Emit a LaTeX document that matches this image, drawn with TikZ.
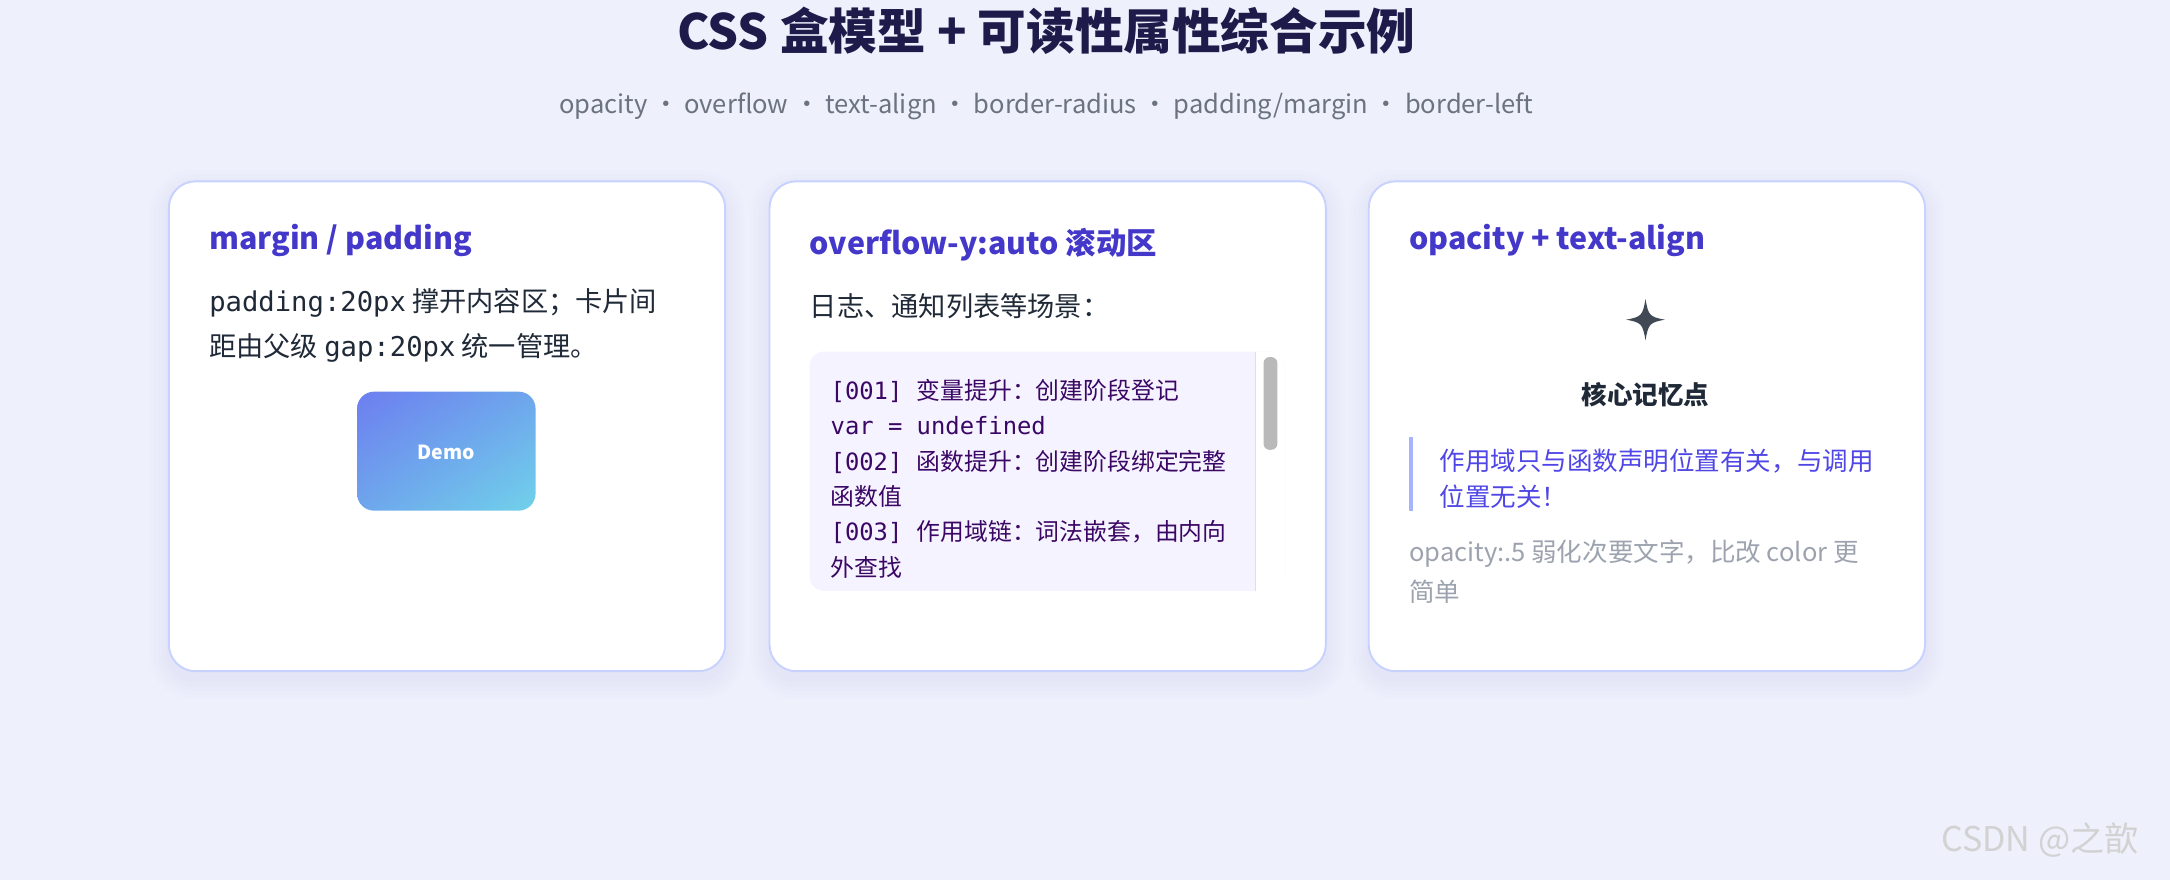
\documentclass[tikz,border=0pt]{standalone}
\usepackage{fontspec}
\setmainfont{Noto Sans CJK SC}
\newfontfamily\monof{DejaVu Sans Mono}
\newfontfamily\cjk{Noto Sans CJK SC}
\usetikzlibrary{positioning,shadings}
\definecolor{bgc}{HTML}{EEF0FC}
\definecolor{titlec}{HTML}{1E1B4B}
\definecolor{subc}{HTML}{6B7280}
\definecolor{edgec}{HTML}{C7D2FE}
\definecolor{headc}{HTML}{4338CA}
\definecolor{bodyc}{HTML}{1F2937}
\definecolor{codec}{HTML}{3B0764}
\definecolor{codebg}{HTML}{F5F3FF}
\definecolor{quotec}{HTML}{4F46E5}
\definecolor{barc}{HTML}{A5B4FC}
\definecolor{mutec}{HTML}{9CA3AF}
\definecolor{demoa}{HTML}{6D7EF0}
\definecolor{demob}{HTML}{6EA6EC}
\definecolor{democ}{HTML}{70D2EA}
\definecolor{shadc}{HTML}{6366F1}
\newcommand{\cmono}[1]{{\monof #1}}
\begin{document}
\begin{tikzpicture}[x=0.02cm,y=-0.02cm,
        card/.style={draw=edgec, line width=0.8pt, fill=white, rounded corners=11pt},
        head/.style={anchor=west, font=\bfseries\fontsize{12.5}{14}\selectfont, text=headc},
        body/.style={anchor=north west, align=left, font=\fontsize{11.2}{18.5}\selectfont, text=bodyc},
        code/.style={anchor=north west, align=left, font=\fontsize{9.8}{14.5}\selectfont, text=codec},
    ]
    \fill[bgc] (0,0) rectangle (1568,636);
    \useasboundingbox (0,0) rectangle (1568,636);

    % titles
    \node[font=\bfseries\fontsize{20}{22}\selectfont, text=titlec] (title) at (756,22) {CSS 盒模型 + 可读性属性综合示例};
    \node[font=\fontsize{10.5}{12}\selectfont, text=subc] (subtitle) at (756,77) {opacity · overflow · text-align · border-radius · padding/margin · border-left};

    % cards with soft shadow
    \foreach \xa in {122,556,989} {
        \foreach \s in {2,5,8,11,14}
            \fill[shadc, opacity=0.012, rounded corners=11pt+\s*0.5pt]
                (\xa-\s,131-\s+6) rectangle (\xa+402+\s,485+\s+6);
        \path[card] (\xa,131) rectangle (\xa+402,485);
    }

    % card 1
    \node[head] (headA) at (145,174) {margin / padding};
    \node[body] (textA) at (145,202) {\cmono{padding:20px} 撑开内容区；卡片间\\距由父级 \cmono{gap:20px} 统一管理。};
    \shade[rounded corners=7pt, upper left=demoa, lower right=democ, upper right=demob, lower left=demob]
        (258,283) rectangle (387,369);
    \node[font=\bfseries\fontsize{8}{9}\selectfont, text=white] (demo) at (322.5,327) {Demo};

    % card 2
    \node[head] (headB) at (579,177) {overflow-y:auto 滚动区};
    \node[body] (textB) at (579,206) {日志、通知列表等场景：};
    \fill[codebg, rounded corners=6pt] (585,254) rectangle (928,427);
    \fill[white] (907,254) rectangle (928,427);
    \draw[gray!25] (907,254) -- (907,427);
    \fill[gray!55, rounded corners=2.5pt] (913,258) rectangle (923,325);
    \node[code] (log) at (594,268) {\monof [001] {\cjk 变量提升：创建阶段登记}\\\monof var = undefined\\
        \monof [002] {\cjk 函数提升：创建阶段绑定完整}\\{\cjk 函数值}\\
        \monof [003] {\cjk 作用域链：词法嵌套，由内向}\\{\cjk 外查找}};

    % card 3
    \node[head] (headC) at (1012,174) {opacity + text-align};
    \fill[bodyc!85] (1189,216) .. controls (1191,228) and (1192,229) .. (1203,231)
        .. controls (1192,233) and (1191,234) .. (1189,246)
        .. controls (1187,234) and (1186,233) .. (1175,231)
        .. controls (1186,229) and (1187,228) .. (1189,216) -- cycle;
    \node[font=\bfseries\fontsize{10.5}{12}\selectfont, text=bodyc] (core) at (1189,285) {核心记忆点};
    \fill[barc] (1018,316) rectangle (1021,369);
    \node[body, text=quotec, font=\fontsize{10.5}{14.7}\selectfont] (quote) at (1034,318) {作用域只与函数声明位置有关，与调用\\位置无关！};
    \node[body, text=mutec, font=\fontsize{10.5}{16.5}\selectfont] (mute) at (1012,384) {opacity:.5 弱化次要文字，比改 color 更\\简单};

    % watermark
    \node[font=\fontsize{14}{15}\selectfont, text=gray!35] (mark) at (1474,607) {CSDN @之歆};
\end{tikzpicture}
\end{document}
